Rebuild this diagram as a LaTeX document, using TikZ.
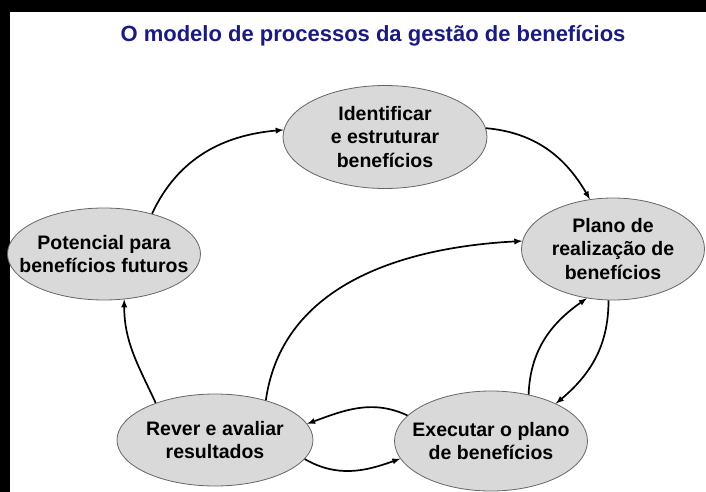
\documentclass[tikz,border=0pt]{standalone}
\usepackage{fontspec}
\setmainfont{Liberation Sans}
\usetikzlibrary{shapes.geometric}
\definecolor{titleblue}{RGB}{26,26,128}

\begin{document}
\begin{tikzpicture}[x=1pt, y=1pt]
        \tikzstyle{process}=[ellipse,draw=black!60,line width=0.8pt,fill=black!15,inner sep=0pt]
        \tikzstyle{caption}=[font=\bfseries\fontsize{19.5}{23.5}\selectfont,align=center,inner sep=0pt]
        \tikzstyle{flow}=[-latex,line width=1.7pt]

        \useasboundingbox (0,0) rectangle (706,-492);
        \fill[black] (0,0) rectangle (10,-492);
        \fill[black] (0,0) rectangle (706,-12);

        \node[font=\bfseries\fontsize{22}{26}\selectfont,text=titleblue] (T) at (373,-36) {O modelo de processos da gestão de benefícios};

        \node[process,minimum width=204,minimum height=103,label={[caption]center:Identificar\\e estruturar\\benefícios}] (P_1) at (385,-137) {};
        \node[process,minimum width=183,minimum height=102,label={[caption]center:Plano de\\realização de\\benefícios}] (P_2) at (613,-249) {};
        \node[process,minimum width=193,minimum height=100,label={[caption]center:Executar o plano\\de benefícios}] (P_3) at (491,-441) {};
        \node[process,minimum width=196,minimum height=92,label={[caption]center:Rever e avaliar\\resultados}] (P_4) at (215,-440) {};
        \node[process,minimum width=193,minimum height=92,label={[caption]center:Potencial para\\benefícios futuros}] (P_5) at (104,-254) {};

        \draw[flow] (P_5.40) to[out=65,in=185] (P_1.176);
        \draw[flow] (P_1.5) to[out=-5,in=120] (P_2.115);
        \draw[flow] (P_4.38) to[out=82,in=183] (P_2.175);
        \draw[flow] (P_2.265) to[out=-90,in=40] (P_3.30);
        \draw[flow] (P_3.51) to[out=88,in=215] (P_2.242);
        \draw[flow] (P_3.163) to[out=155,in=20] (P_4.10);
        \draw[flow] (P_4.-12) to[out=-30,in=200] (P_3.191);
        \draw[flow] (P_4.148) to[out=115,in=-90] (P_5.-66);
    \end{tikzpicture}
\end{document}
